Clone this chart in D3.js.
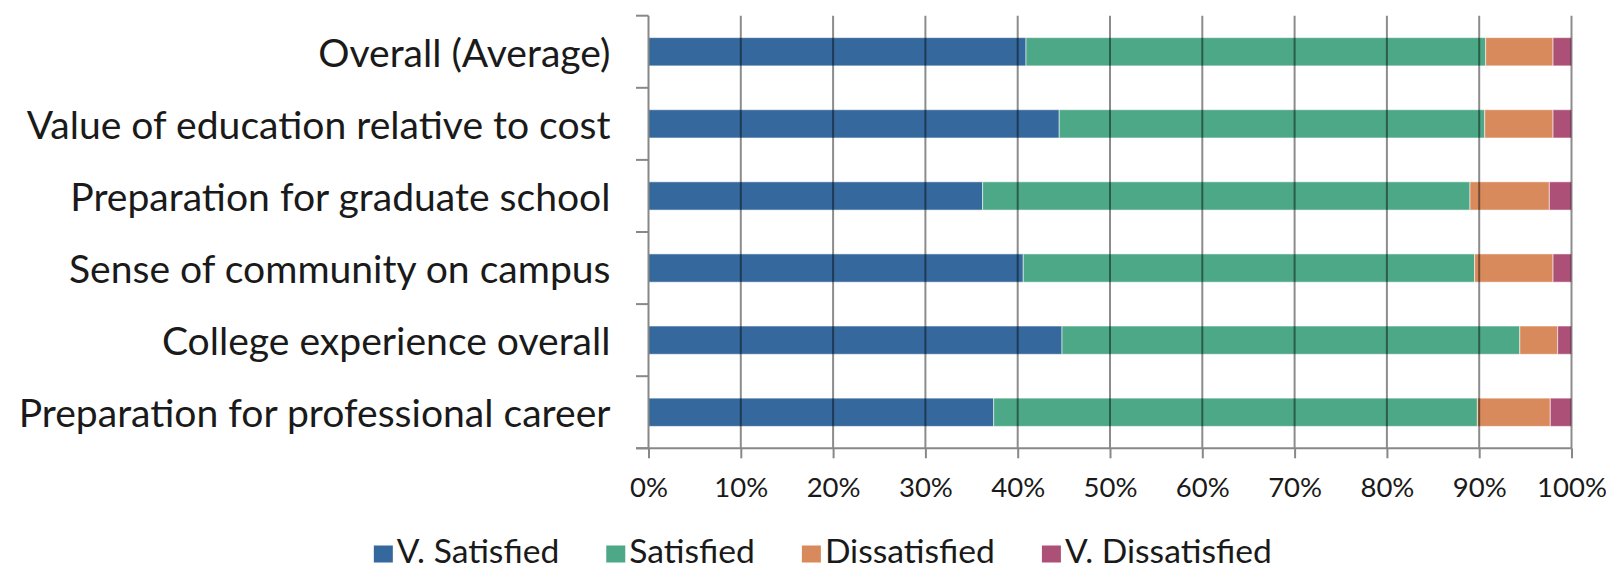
<!DOCTYPE html>
<html>
<head>
<meta charset="utf-8">
<script src="https://cdn.jsdelivr.net/npm/d3@7"></script>
<style>
  html, body { margin: 0; padding: 0; background: #fff; }
  svg { display: block; }
  text { font-family: Lato, "Open Sans", sans-serif; fill: #1a1a1a; }
</style>
</head>
<body>
<svg id="chart" width="1606" height="569"></svg>
<script>
// ---- data (percent of respondents), categories top to bottom ----
const categories = [
  "Overall (Average)",
  "Value of education relative to cost",
  "Preparation for graduate school",
  "Sense of community on campus",
  "College experience overall",
  "Preparation for professional career"
];
const seriesNames = ["V. Satisfied", "Satisfied", "Dissatisfied", "V. Dissatisfied"];
const vSatisfied    = [40.9, 44.5, 36.2, 40.6, 44.8, 37.4];
const satisfied     = [49.8, 46.1, 52.8, 48.9, 49.6, 52.4];
const dissatisfied  = [7.3, 7.4, 8.6, 8.5, 4.1, 7.9];
const vDissatisfied = [2.0, 2.0, 2.4, 2.0, 1.5, 2.3];
const xTickValues = [0, 0.1, 0.2, 0.3, 0.4, 0.5, 0.6, 0.7, 0.8, 0.9, 1.0];

const colors = ["#35689c", "#4ca886", "#d98a5c", "#ad5078"];

// ---- layout ----
const W = 1606, H = 569;
const plot = { left: 648.5, right: 1571.5, top: 15.7, bottom: 448.3 };

const svg = d3.select("#chart");

const rows = categories.map((c, i) => ({
  cat: c,
  "V. Satisfied": vSatisfied[i],
  "Satisfied": satisfied[i],
  "Dissatisfied": dissatisfied[i],
  "V. Dissatisfied": vDissatisfied[i]
}));

const stacked = d3.stack().keys(seriesNames).offset(d3.stackOffsetExpand)(rows);

const x = d3.scaleLinear().domain([0, 1]).range([plot.left, plot.right]);
const y = d3.scaleBand().domain(categories).range([plot.top, plot.bottom])
  .paddingInner(0.608).paddingOuter(0.304);
const color = d3.scaleOrdinal().domain(seriesNames).range(colors);

// bars
const gBars = svg.append("g");
gBars.selectAll("g").data(stacked).join("g")
  .attr("fill", d => color(d.key))
  .selectAll("rect").data(d => d).join("rect")
  .attr("x", d => x(d[0]))
  .attr("width", d => x(d[1]) - x(d[0]))
  .attr("y", d => y(d.data.cat))
  .attr("height", y.bandwidth())
  .attr("stroke", "rgba(255,255,255,0.55)")
  .attr("stroke-width", 1);

// gridlines (drawn over bars, translucent)
svg.append("g").selectAll("line").data(xTickValues.slice(1)).join("line")
  .attr("x1", d => x(d)).attr("x2", d => x(d))
  .attr("y1", plot.top).attr("y2", plot.bottom)
  .attr("stroke", "#000").attr("stroke-opacity", 0.45).attr("stroke-width", 2);

// x axis
const xAxis = d3.axisBottom(x).tickValues(xTickValues).tickFormat(d3.format(".0%"))
  .tickSize(10).tickPadding(19);
const gx = svg.append("g").attr("transform", `translate(0,${plot.bottom})`).call(xAxis);
gx.select(".domain").attr("stroke", "#888").attr("stroke-width", 2)
  .attr("d", `M${plot.left - 12.5},0H${plot.right}`);
gx.selectAll(".tick line").attr("stroke", "#888").attr("stroke-width", 2);
gx.selectAll(".tick text").attr("font-family", "Lato, 'Open Sans', sans-serif")
  .attr("font-size", 27.5).attr("fill", "#1a1a1a");

// y axis line + ticks at band boundaries
const gy = svg.append("g");
gy.append("line").attr("x1", plot.left).attr("x2", plot.left)
  .attr("y1", plot.top).attr("y2", plot.bottom)
  .attr("stroke", "#888").attr("stroke-width", 2);
gy.selectAll("line.tk").data(d3.range(categories.length + 1)).join("line").attr("class", "tk")
  .attr("x1", plot.left - 12.5).attr("x2", plot.left)
  .attr("y1", i => plot.top + i * y.step())
  .attr("y2", i => plot.top + i * y.step())
  .attr("stroke", "#888").attr("stroke-width", 2);

// category labels
const labels = svg.append("g").selectAll("text").data(categories).join("text")
  .attr("x", plot.left - 38)
  .attr("y", d => y(d) + y.bandwidth() / 2)
  .attr("text-anchor", "end")
  .attr("dy", "0.38em")
  .attr("font-size", 32)
  .text(d => d);
let maxW = 0;
labels.each(function() { maxW = Math.max(maxW, this.getComputedTextLength()); });
labels.attr("font-size", 32 * 592 / maxW);

// legend
const legend = svg.append("g");
const items = legend.selectAll("g").data(seriesNames).join("g");
items.append("rect").attr("y", -17).attr("width", 19).attr("height", 17).attr("fill", d => color(d));
const ltexts = items.append("text").attr("x", 23).attr("y", 0)
  .attr("font-size", 30).text(d => d);
let lw = 0;
ltexts.each(function(d) { if (d === "V. Dissatisfied") lw = this.getComputedTextLength(); });
ltexts.attr("font-size", 30 * 207 / lw);
let cx = 0;
const offsets = [];
ltexts.each(function() { offsets.push(cx); cx += 23 + this.getComputedTextLength() + 47; });
const totalW = cx - 47;
const startX = 822.8 - totalW / 2;
items.attr("transform", (d, i) => `translate(${startX + offsets[i]},${562.5})`);
</script>
</body>
</html>
